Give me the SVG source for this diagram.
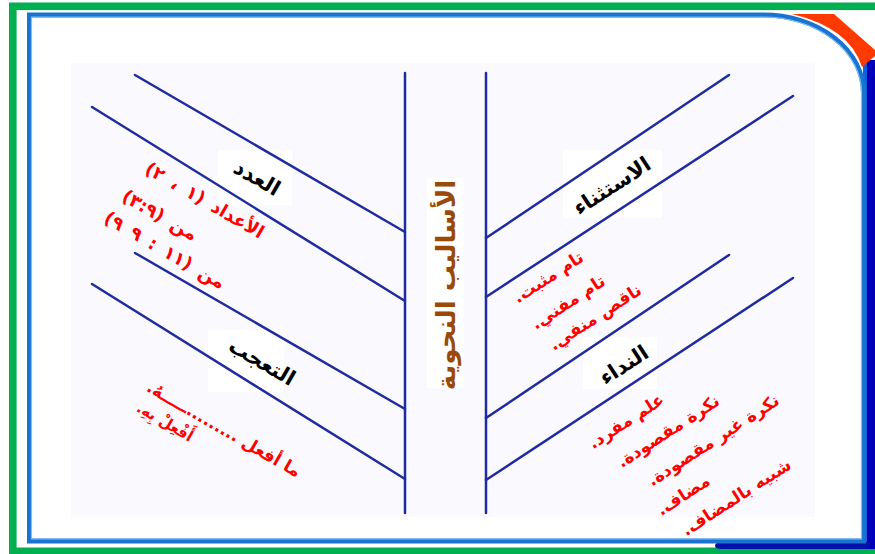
<svg xmlns="http://www.w3.org/2000/svg" width="875" height="554" viewBox="0 0 875 554">
<defs>
<style>
.ln{stroke:#1f2b9f;stroke-width:2.5;fill:none;stroke-linecap:round}
.lbl{font-family:"DejaVu Sans",sans-serif;font-weight:bold;font-size:21px;fill:#000;direction:rtl}
.red{font-family:"DejaVu Sans",sans-serif;font-weight:bold;font-size:17px;fill:#ff0000;direction:rtl}
.redl{font-family:"DejaVu Sans",sans-serif;font-weight:bold;font-size:18px;fill:#ff0000;direction:rtl;word-spacing:4px}
.ttl{font-family:"DejaVu Sans",sans-serif;font-weight:bold;font-size:26px;fill:#9a4a08;direction:rtl}
.wb{fill:#ffffff}
</style>
</defs>
<rect x="0" y="0" width="875" height="554" fill="#ffffff"/>
<!-- outer green frame -->
<rect x="12.8" y="6.3" width="900" height="545" fill="none" stroke="#00b050" stroke-width="7.6"/>
<!-- right shadow / curl -->
<rect x="866" y="60" width="9" height="489" fill="#0000b8"/>
<rect x="863" y="62" width="4" height="485" fill="#1060e0"/>
<path d="M715,546 Q715,542 722,542 L870,542 L870,549 L722,549 Q715,549 715,546 Z" fill="#0010a8"/>
<path d="M792,14 L834,14 L875,50 L875,56 L862,67 Q850,28 792,14 Z" fill="#ff3a00"/>
<!-- inner blue frame -->
<path d="M29.5,15 L763,15 A100,78 0 0 1 863.5,93 L863.5,541 L29.5,541 Z" fill="#ffffff" stroke="#1a73d0" stroke-width="5"/>
<path d="M31.5,17 L763,17 A98,76 0 0 1 861.5,93 L861.5,539 L31.5,539 Z" fill="none" stroke="#7ec0f5" stroke-width="1.2"/>
<!-- content background -->
<rect x="71" y="63" width="744" height="454" fill="#fafafe"/>

<!-- label backgrounds -->
<rect class="wb" x="218" y="150" width="74" height="55"/>
<rect class="wb" x="208" y="330" width="76" height="62"/>
<rect class="wb" x="563" y="150" width="99" height="68"/>
<rect class="wb" x="583" y="337" width="74" height="52"/>
<rect class="wb" x="427" y="178" width="37" height="210"/>

<!-- connectors -->
<g id="connectors">
<line class="ln" x1="405" y1="73" x2="405" y2="513"/>
<line class="ln" x1="486" y1="73" x2="486" y2="513"/>
<line class="ln" x1="135" y1="75" x2="405" y2="232"/>
<line class="ln" x1="92" y1="107" x2="405" y2="301"/>
<line class="ln" x1="135" y1="253" x2="405" y2="409"/>
<line class="ln" x1="92" y1="284" x2="405" y2="479"/>
<line class="ln" x1="729" y1="75" x2="486" y2="238"/>
<line class="ln" x1="793" y1="96" x2="486" y2="297"/>
<line class="ln" x1="729" y1="255" x2="486" y2="418"/>
<line class="ln" x1="793" y1="278" x2="486" y2="480"/>
</g>

<g id="title">
<text class="ttl" transform="translate(446,285) rotate(-90)" text-anchor="middle" dominant-baseline="central">الأساليب النحوية</text>
</g>

<g id="node-adad">
<text class="lbl" transform="translate(257,178) rotate(30)" text-anchor="middle" dominant-baseline="central">العدد</text>
<text class="redl" transform="translate(205,200) rotate(30)" text-anchor="middle" dominant-baseline="central">الأعداد (١ ، ٢)</text>
<text class="redl" transform="translate(160,215) rotate(30)" text-anchor="middle" dominant-baseline="central">من (٣:٩)</text>
<text class="redl" transform="translate(165,250) rotate(30)" text-anchor="middle" dominant-baseline="central">من (١١ : ٩ ٩)</text>
</g>

<g id="node-taajjub">
<text class="lbl" transform="translate(262,362) rotate(30)" text-anchor="middle" dominant-baseline="central">التعجب</text>
<text class="red" transform="translate(224,429) rotate(30)" text-anchor="middle" dominant-baseline="central">ما أفعل .........ـــــهُ.</text>
<text class="red" style="font-size:15px" transform="translate(165,422) rotate(30)" text-anchor="middle" dominant-baseline="central">أَفْعِلْ بِهِ.</text>
</g>

<g id="node-istithnaa">
<text class="lbl" transform="translate(612,186) rotate(-33)" text-anchor="middle" dominant-baseline="central">الاستثناء</text>
<text class="red" transform="translate(548,277) rotate(-33)" text-anchor="middle" dominant-baseline="central">تام مثبت.</text>
<text class="red" transform="translate(568,302) rotate(-33)" text-anchor="middle" dominant-baseline="central">تام مفني.</text>
<text class="red" transform="translate(595,317) rotate(-33)" text-anchor="middle" dominant-baseline="central">ناقص منفي.</text>
</g>

<g id="node-nidaa">
<text class="lbl" transform="translate(624,365) rotate(-33)" text-anchor="middle" dominant-baseline="central">النداء</text>
<text class="red" transform="translate(626,421) rotate(-33)" text-anchor="middle" dominant-baseline="central">علم مفرد.</text>
<text class="red" transform="translate(668,431) rotate(-33)" text-anchor="middle" dominant-baseline="central">نكرة مقصودة.</text>
<text class="red" transform="translate(713,440) rotate(-33)" text-anchor="middle" dominant-baseline="central">نكرة غير مقصودة.</text>
<text class="red" transform="translate(683,495) rotate(-33)" text-anchor="middle" dominant-baseline="central">مضاف.</text>
<text class="red" transform="translate(736,497) rotate(-33)" text-anchor="middle" dominant-baseline="central">شبيه بالمضاف.</text>
</g>
</svg>
